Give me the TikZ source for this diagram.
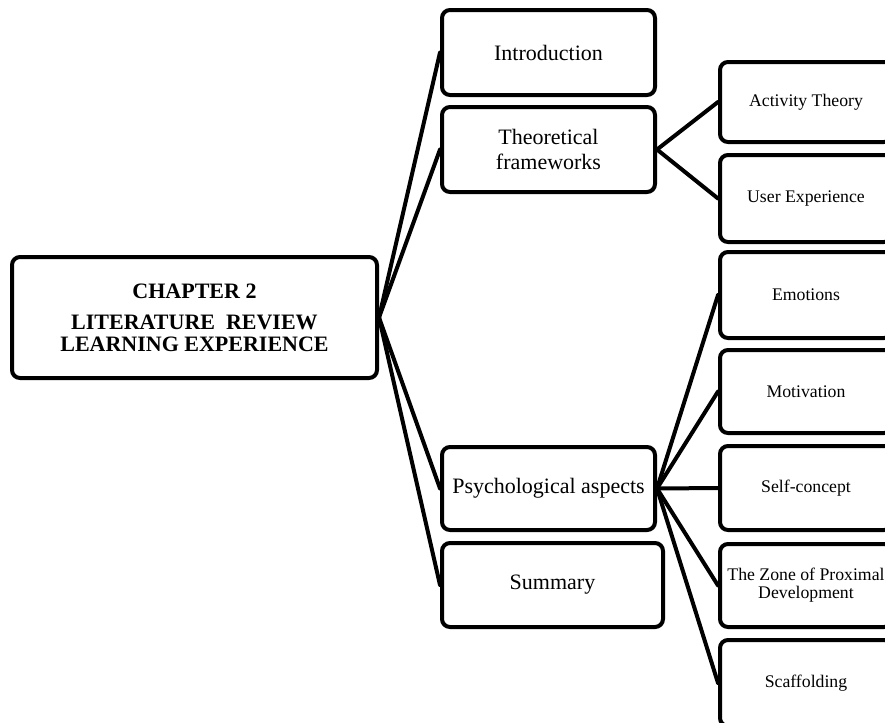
\documentclass[tikz,border=0pt]{standalone}
\usepackage{fontspec}
\setmainfont{Liberation Serif}
\begin{document}
\begin{tikzpicture}[x=0.75pt,y=-0.75pt,
  box/.style={draw=black, line width=3pt, rounded corners=6pt, fill=white,
              inner sep=0pt, align=center},
  topic/.style={box, minimum width=159.75pt, minimum height=63.75pt,
                font=\fontsize{16.5}{18.75}\selectfont},
  subtopic/.style={box, minimum width=129pt,
                   font=\fontsize{13.3}{13.5}\selectfont},
  conn/.style={draw=black, line width=3pt, line cap=round}]
\useasboundingbox (0,0) rectangle (885,722);
\clip (0,0) rectangle (885,722);

% root
\node[box, minimum width=273.75pt, minimum height=90.75pt,
      font=\bfseries\fontsize{16.5}{16.5}\selectfont] (main) at (194.5,317.5)
  {CHAPTER 2\\[7pt]LITERATURE\ \ REVIEW\\LEARNING EXPERIENCE};

% second level
\node[topic] (intro) at (548.5,52.5) {Introduction};
\node[topic] (theo) at (548.5,149.5) {Theoretical\\frameworks};
\node[topic, minimum height=62.25pt] (psych) at (548.5,488.5) {Psychological aspects};
\node[topic, minimum width=165.75pt, minimum height=63pt] (summ) at (552.5,585) {Summary};

% third level
\node[subtopic, minimum height=60pt] (act) at (806,102) {Activity Theory};
\node[subtopic, minimum height=65.25pt] (ux) at (806,198.5) {User Experience};
\node[subtopic, minimum height=64.5pt] (emo) at (806,295) {Emotions};
\node[subtopic, minimum height=62.25pt] (mot) at (806,391.5) {Motivation};
\node[subtopic, minimum height=63pt] (self) at (806,488) {Self-concept};
\node[subtopic, minimum height=62.25pt] (zpd) at (806,585.5) {The Zone of Proximal\\Development};
\node[subtopic, minimum height=64.5pt] (scaf) at (806,683) {Scaffolding};

% connectors
\foreach \t in {intro,theo,psych,summ}
  \draw[conn] (main.east) -- (\t.west);
\foreach \t in {act,ux}
  \draw[conn] (theo.east) -- (\t.west);
\foreach \t in {emo,mot,self,zpd,scaf}
  \draw[conn] (psych.east) -- (\t.west);
\end{tikzpicture}
\end{document}
